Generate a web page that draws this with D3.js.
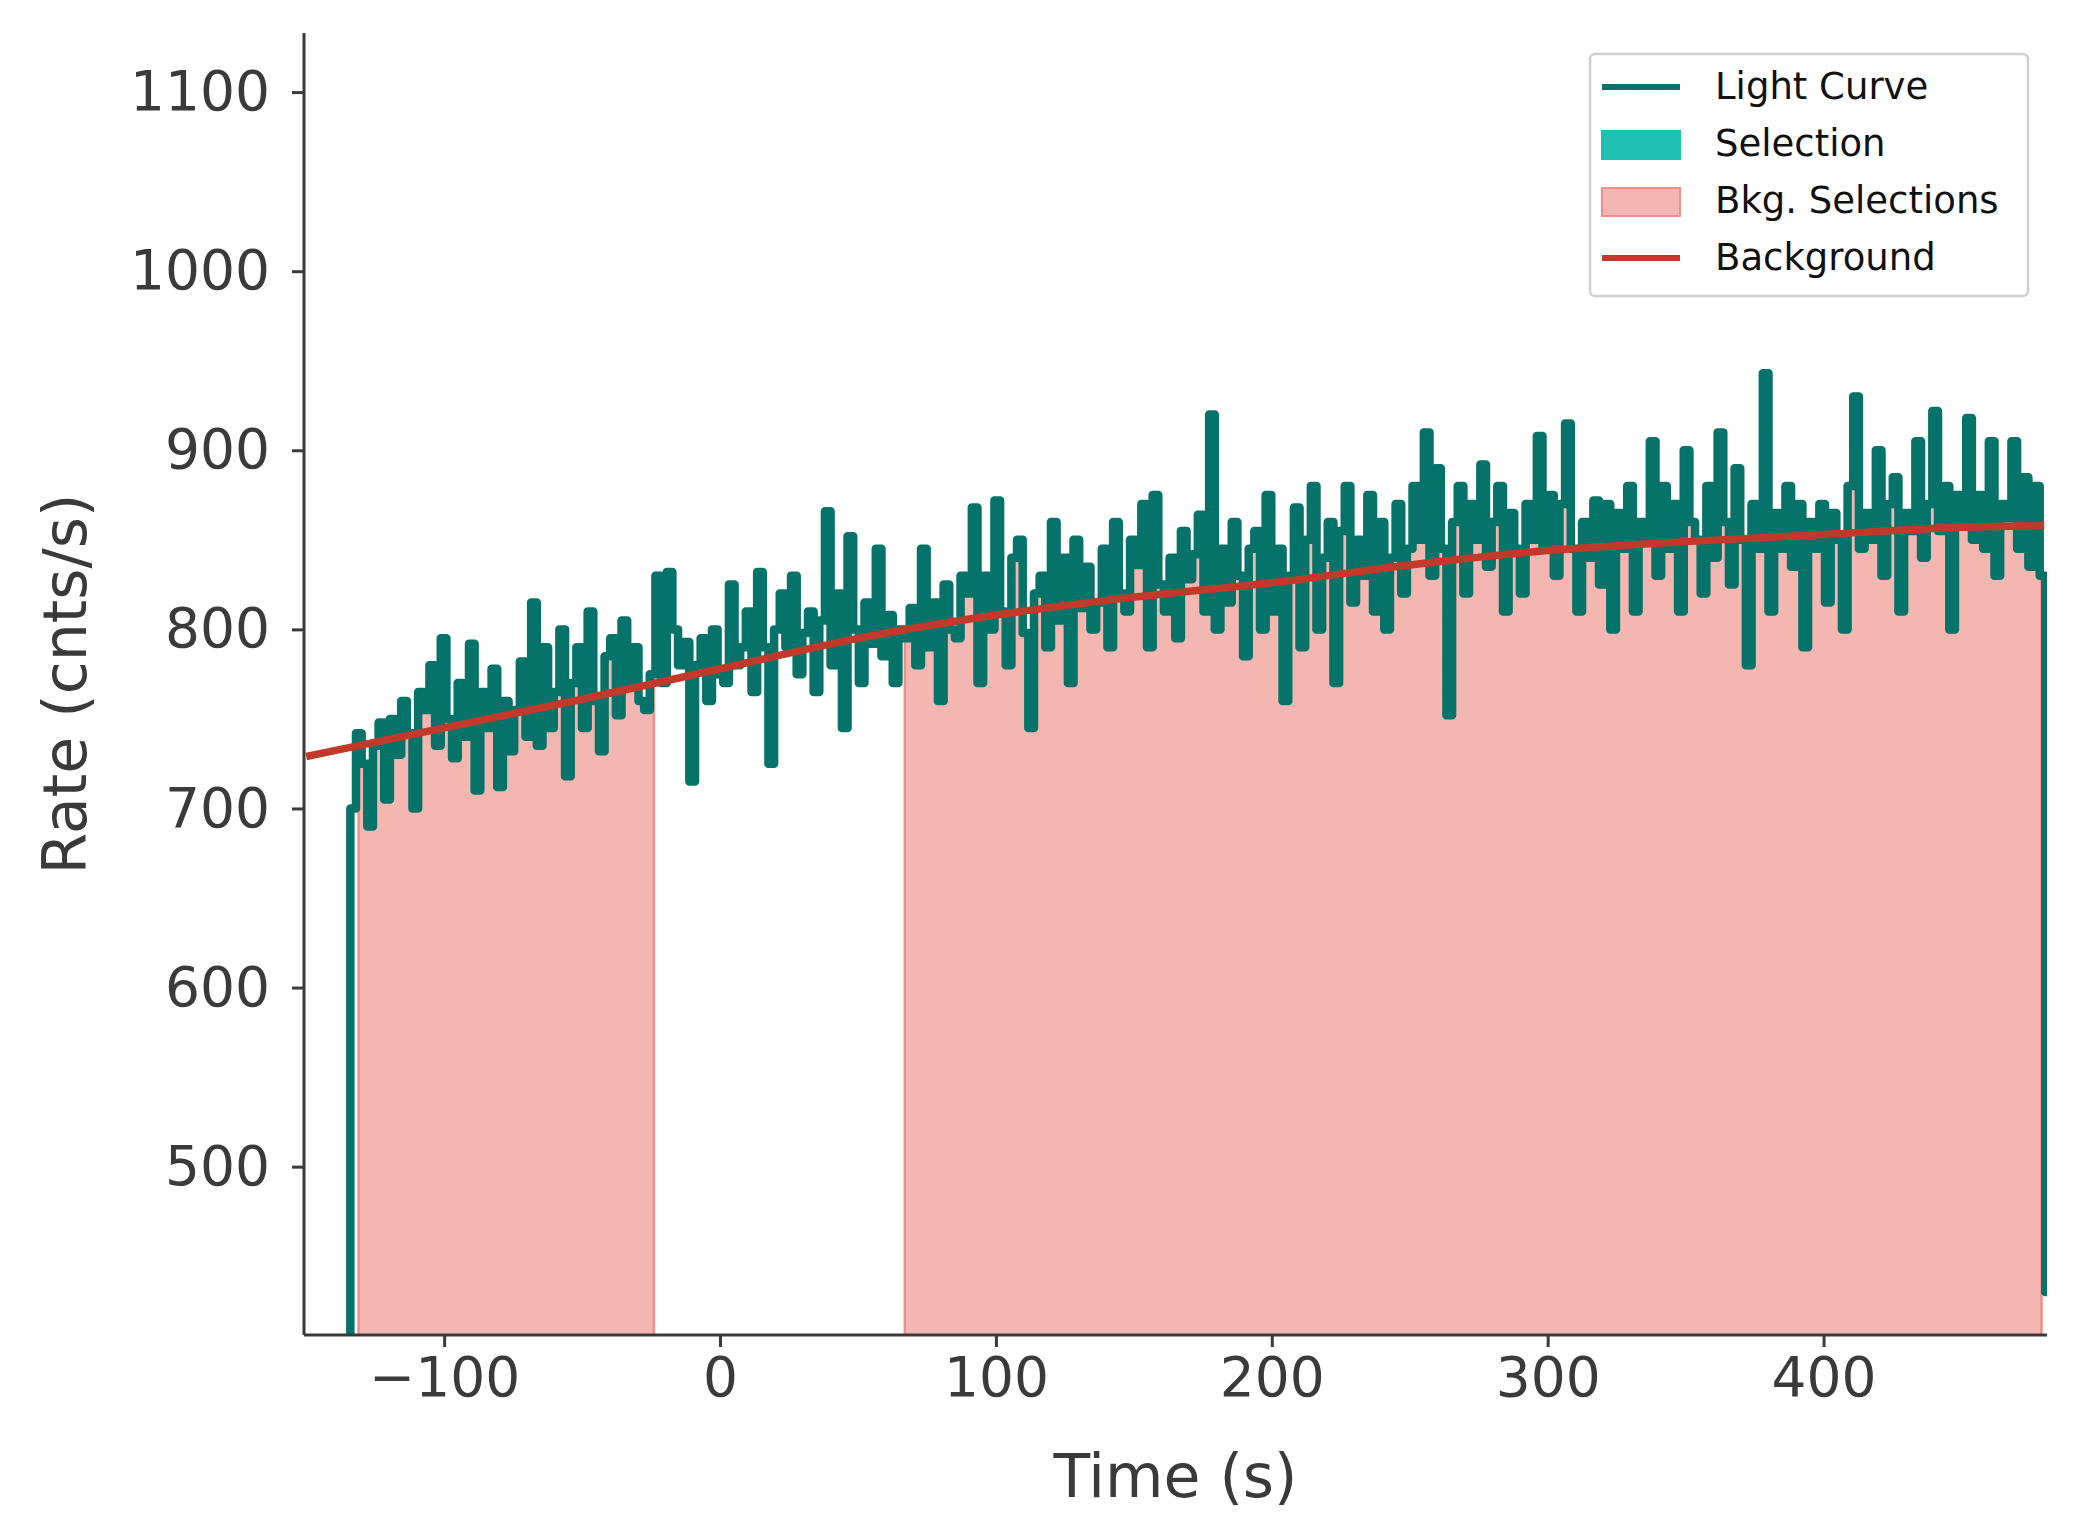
<!DOCTYPE html>
<html><head><meta charset="utf-8">
<script src="https://cdn.jsdelivr.net/npm/d3@7"></script>
<style>body{margin:0;background:#fff}svg{display:block;font-family:"DejaVu Sans",sans-serif}</style>
</head><body><svg id="c" width="2073" height="1540"></svg>
<script>
const binStart = -134, binWidth = 2.048;
const rates = [
700,742,725,690,735,748,705,750,730,760,
742,700,765,755,780,735,795,750,728,770,
740,792,710,765,745,778,712,760,732,755,
782,740,815,735,790,745,765,800,718,770,
790,745,810,760,732,785,795,752,805,770,
790,760,755,775,830,770,832,800,780,793,
715,780,795,760,800,775,770,825,780,790,
810,765,832,790,725,800,820,790,830,775,
798,810,765,805,866,780,820,745,852,800,
770,815,792,845,785,808,770,800,795,812,
780,845,790,815,760,825,800,795,830,820,
868,770,830,800,872,810,780,840,850,798,
745,820,830,790,860,805,840,770,850,812,
835,800,815,845,790,860,820,810,850,836,
870,790,875,825,810,840,795,855,828,842,
864,810,920,800,845,815,860,830,785,845,
855,800,875,810,845,760,830,868,790,850,
880,800,840,860,770,855,880,815,850,830,
875,810,860,800,840,870,820,845,880,850,
910,830,890,845,752,860,880,820,870,850,
892,835,860,880,810,865,845,820,870,850,
908,845,875,830,870,915,845,810,860,840,
872,825,870,800,865,845,880,810,860,850,
905,830,880,845,870,810,900,860,850,820,
880,840,910,860,825,890,850,780,870,845,
943,810,865,845,880,835,870,790,860,845,
870,815,865,850,800,880,930,845,865,850,
900,830,870,885,810,865,855,905,840,870,
922,855,880,800,875,860,918,850,875,845,
905,830,870,862,905,845,885,835,880,830];
const endRate = 430;
const bkgSelections = [[-131,-24],[67,479]];
const bkgTimes = [-150,-100,-50,0,50,100,150,200,250,300,350,400,450,480];
const bkgRates = [729,745,761,778,795,808,818,826,836,844,849,853,857,858];
const xTicks = [-100,0,100,200,300,400];
const yTicks = [500,600,700,800,900,1000,1100];
const legendItems = [
 {label:"Light Curve", type:"line", color:"#06736a"},
 {label:"Selection", type:"rect", color:"#1fbfb4", stroke:"#1fbfb4"},
 {label:"Bkg. Selections", type:"rect", color:"#f4b6b1", stroke:"#ef8f87"},
 {label:"Background", type:"line", color:"#c0392b"}];

const svg = d3.select("#c");
const L=304,R=2047,T=33,B=1335;
const x = d3.scaleLinear().domain([-150.8,481]).range([L,R]);
const y = d3.scaleLinear().domain([406,1133]).range([B,T]);
svg.append("defs").append("clipPath").attr("id","clip").append("rect").attr("x",L).attr("y",T).attr("width",R-L).attr("height",B-T);
const g = svg.append("g").attr("clip-path","url(#clip)");
const rateAt = t => rates[Math.max(0,Math.min(rates.length-1,Math.floor((t-binStart)/binWidth)))];
bkgSelections.forEach(s=>{
 const ap=[[s[0],rateAt(s[0])]];
 rates.forEach((r,i)=>{const t=binStart+i*binWidth; if(t>s[0]&&t<s[1]) ap.push([t,r]);});
 ap.push([s[1],rateAt(s[1]-0.01)]);
 const area=d3.area().x(d=>x(d[0])).y0(B+20).y1(d=>y(d[1])).curve(d3.curveStepAfter);
 g.append("path").attr("d",area(ap)).attr("fill","#f4b6b1").attr("stroke","#ef8f87").attr("stroke-width",2.5);
});
const pts=[[binStart,380]];
rates.forEach((r,i)=>pts.push([binStart+i*binWidth,r]));
pts.push([binStart+rates.length*binWidth,endRate]);
pts.push([binStart+rates.length*binWidth+1,endRate]);
g.append("path").attr("d",d3.line().x(d=>x(d[0])).y(d=>y(d[1])).curve(d3.curveStepAfter)(pts))
 .attr("fill","none").attr("stroke","#06736a").attr("stroke-width",8.5).attr("stroke-linejoin","round").attr("stroke-linecap","round");
g.append("path").attr("d",d3.line().x((d,i)=>x(d)).y((d,i)=>y(bkgRates[i])).curve(d3.curveMonotoneX)(bkgTimes))
 .attr("fill","none").attr("stroke","#c0392b").attr("stroke-width",7.5);

const ac="#3a3a3a";
const xa=svg.append("g").attr("transform",`translate(0,${B})`).call(d3.axisBottom(x).tickValues(xTicks).tickFormat(d=>d<0?"\u2212"+(-d):String(d)).tickSize(12).tickPadding(10));
const ya=svg.append("g").attr("transform",`translate(${L},0)`).call(d3.axisLeft(y).tickValues(yTicks).tickFormat(d=>String(d)).tickSize(12).tickPadding(22));
[xa,ya].forEach(a=>{a.selectAll("path,line").attr("stroke",ac).attr("stroke-width",3);a.selectAll("text").attr("fill",ac).attr("font-size",55).attr("font-family","DejaVu Sans");});
xa.select(".domain").attr("d",`M${L},0H${R}`);
ya.select(".domain").attr("d",`M0,${B}V${T}`);
svg.append("text").attr("x",(L+R)/2).attr("y",1497).attr("text-anchor","middle").attr("font-size",60).attr("fill",ac).text("Time (s)");
svg.append("text").attr("transform",`translate(86,${(T+B)/2}) rotate(-90)`).attr("text-anchor","middle").attr("font-size",60).attr("fill",ac).text("Rate (cnts/s)");

const lg=svg.append("g").attr("transform","translate(1590,54)");
lg.append("rect").attr("width",438).attr("height",242).attr("rx",5).attr("fill","#fff").attr("fill-opacity",0.85).attr("stroke","#d0d0d0").attr("stroke-width",2.5);
legendItems.forEach((it,i)=>{
 const cy=33+i*57;
 if(it.type==="line") lg.append("line").attr("x1",12).attr("x2",90).attr("y1",cy).attr("y2",cy).attr("stroke",it.color).attr("stroke-width",6);
 else lg.append("rect").attr("x",12).attr("y",cy-13).attr("width",78).attr("height",28).attr("fill",it.color).attr("stroke",it.stroke).attr("stroke-width",2);
 lg.append("text").attr("x",125).attr("y",cy+12).attr("font-size",37).attr("fill","#111").text(it.label);
});
</script></body></html>
